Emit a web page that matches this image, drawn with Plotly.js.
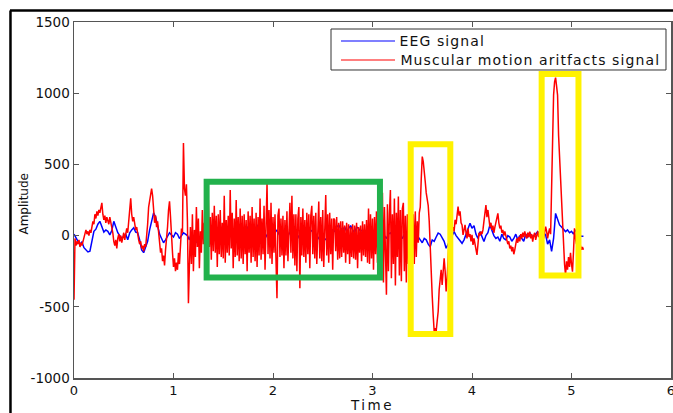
<!DOCTYPE html>
<html>
<head>
<meta charset="utf-8">
<script src="https://cdn.plot.ly/plotly-3.0.1.min.js"></script>
<style>
  html, body { margin: 0; padding: 0; background: #ffffff; }
  #chart { width: 673px; height: 413px; }
  /* wide, airy lettering of the legend labels and the time label */
  #chart .annotation[data-index="0"] text,
  #chart .annotation[data-index="1"] text { letter-spacing: 1.1px; }
  #chart .xtitle { letter-spacing: 2.5px; }
</style>
</head>
<body>
<div id="chart"></div>
<script>
// Sampling steps (seconds) of the two recordings
const eegStep = 0.02;
const emgStep = 0.01;

// EEG signal (blue), three consecutive stretches
const eegStartA = 0.00;
const eegA = [
  10, -20, -40, -60, -45, -85, -100, -115, -110, -40,
  30, 45, 80, 100, 55, 25, 40, 30, 5, 35,
  100, 65, 20, 0, -20, -5, 10, -30, 20, 40,
  55, 25, 20, -30, -100, -120, -80, -40, 40, 110,
  160, 130, 60, 10, -20, -50, -30, 0, 20, 5,
  -10, 20, 10, -20, 0, 20, 10
];
const eegStartB = 1.14;
const eegB = [
  0, -30, 20, -10, -40, -50, -30, 10, -20, 0,
  -40, -30, -50, -20, 0, -40, -50, -20, 10, 30,
  0, 20, -10, 30, 10, -20, 20, 40, 20, 50,
  60, 30, 0, -20, 20, 75, 50, 20, 0, -20,
  10, 30, 0, -30, 20, 40, 10, -10, 30, 0,
  -20, 10, 40, 20, -10, -30, 0, -20, -40, -30,
  -20, 10, 30, 40, 20, 0, -20, -40, -50, -30,
  -20, 0, 20, 40, 30, 60, 75, 50, 40, 60,
  30, 50, 70, 40, 20, 60, 50, 30, 40, 20,
  40, 60, 30, 10, 0, 20, -10, 10, 30, 0,
  -20, 10, 20, 0, -30, -10, 20, 0, -20, 10,
  0, -10, 20
];
const eegStartC = 3.40;
const eegC = [
  0, -20, -30, -10, -30, -50, -20, -30, -60, -78,
  -30, -40, -10, 18, 10, -20, -40, -89, -60, -20,
  10, 28, 0, -20, -40, -54, -30, 10, 60, 86,
  51, 70, 10, -20, 28, -10, -42, 0, 20, 75,
  40, 0, -20, -10, -40, 10, -20, -30, 0, -10,
  -40, -20, 10, -30, 0, -20, -40, 10, -10, 20,
  0, -7, 10, 28, 5, -10, 20, 5, -60, -30,
  -110, -20, 156, 120, 75, 60, 40, 28, 40, 20,
  30, 10, 40, 20, 0, -5, -5
];

// Muscular motion artifacts signal (red), three consecutive stretches
const emgStartA = 0.00;
const emgA = [
  -450, -20, -70, -40, -60, -30, -80, -50, -70, -40,
  -20, 20, 40, 10, 30, 0, 40, 20, 60, 100,
  80, 150, 120, 170, 140, 180, 160, 200, 230, 150,
  110, 140, 90, 130, 100, 80, 130, 100, 60, 20,
  -40, -70, -30, -90, -20, 10, -40, 0, -50, -10,
  20, -30, 10, 50, 20, 90, 160, 262, 150, 100,
  130, 80, 40, 60, 0, -30, -60, -40, -90, -70,
  -110, -60, -80, -20, 80, 200, 250, 310, 330, 280,
  150, 90, 140, 60, 100, 20, -60, -120, -90, -180,
  -140, -210, -100, -40, 60, 180, 240, 130, -30, -120,
  -220, -160, -250, -190, -240, -120, -200, -80, 50, 20
];
const emgStartB = 1.10;
const emgB = [
  650, 330, 280, 360, 100, -475, -120, 60, -200, 150,
  -250, 40, -150, 200, -80, 120, -230, 30, -120, 180,
  -60, 90, -200, 120, -140, 250, -80, 130, -170, 160,
  -110, 210, -120, 140, -220, 150, -130, 180, -150, 90,
  -160, 280, -190, 110, -120, 140, -140, 320, -90, 160,
  -230, 120, -150, 250, -140, 130, -180, 190, -160, 140,
  -200, 150, -130, 110, -250, 170, -120, 140, -190, 200,
  -150, 120, -180, 160, -220, 130, -140, 260, -170, 120,
  -130, 210, -240, 150, 367, -130, 180, -160, 230, -200,
  130, -120, 150, -170, -440, 140, 190, -150, 120, -140,
  140, -230, 110, -140, 170, -180, 130, 230, -120, 280,
  -160, 150, -210, 150, -250, 120, 200, -370, 130, -140,
  190, -150, 110, -190, 160, -130, 150, -230, 140, 210,
  -130, 140, -160, 160, -200, 120, 240, -160, 130, -180,
  180, -220, 130, 285, -140, 150, -190, 160, -130, 120,
  -240, 120, 110, -110, 130, -170, 90, -160, 100, -150,
  100, -120, 70, -190, 90, -130, 80, -200, 60, -150,
  80, -160, 70, -170, 90, -230, 60, -120, 70, -180,
  100, -140, 80, -150, 110, -190, 190, -200, 150, -160,
  120, -240, 130, -130, 170, -190, 240, -260, 120, -180,
  300, -330, 200, -200, -415, 220, -250, 150, 320, -300,
  150, -200, 260, -350, 160, -150, 274, -280, 180, -320,
  190, 230, -250, 140, -330, 150, -200, 120, -150, 40
];
const emgStartC = 3.40;
const emgC = [
  -100, 150, -200, 170, -150, 100, -50, 160, 200, 400,
  555, 520, 420, 380, 300, 260, 210, 100, -120, -300,
  -420, -560, -674, -650, -670, -600, -533, -380, -300, -240,
  -347, -200, -160, -250, -393, -300, -150, -30, 30, 50,
  20, 60, 30, 110, 80, 150, 204, 140, 170, 90,
  75, 5, 40, 75, 20, -20, 50, -10, 10, -40,
  5, -65, -20, -60, -100, -136, -60, 20, 0, 28,
  10, 40, 100, 150, 215, 130, 180, 120, 60, 90,
  40, 70, 20, 60, 90, 120, 156, 90, 50, 70,
  20, 40, 0, 30, -10, -30, -60, -40, -90, -70,
  -110, -80, -131, -100, -60, -20, -50, -10, -40, 10,
  -20, 20, -10, 30, 0, -20, 20, -10, 28, -20,
  10, -42, 0, 20, -30, 10, 30, -10, 20, 40,
  0, 30, -20, 40, 63, 30, -19, 20, 50, 10,
  337, 700, 987, 1080, 1109, 1050, 987, 706, 543, 350,
  191, 40, -112, -200, -276, -180, -240, -150, -220, -120,
  -200, -253, -112, 51, -19, -60, -40, -90, -112, -70,
  -100, -80, -100
];

const seriesNames = ['EEG signal', 'Muscular motion aritfacts signal'];
const seriesColors = ['#0000ff', '#ff0000'];

// Highlighted regions: [t0, t1, a0, a1]
const burstRegion = [1.333, 3.075, -295, 379];
const artifactRegions = [
  [3.384, 3.782, -691, 642],
  [4.70, 5.07, -281, 1134]
];

const xTicks = [0, 1, 2, 3, 4, 5, 6];
const yTicks = [-1000, -500, 0, 500, 1000, 1500];

// Join stretches into one series with its time stamps
function series(parts, step) {
  const t = [], v = [];
  parts.forEach(([start, vals]) => {
    vals.forEach((val, i) => {
      t.push(Math.round((start + i * step) * 1000) / 1000);
      v.push(val);
    });
  });
  return { t, v };
}

const eeg = series([[eegStartA, eegA], [eegStartB, eegB], [eegStartC, eegC]], eegStep);
const emg = series([[emgStartA, emgA], [emgStartB, emgB], [emgStartC, emgC]], emgStep);

const font = 'DejaVu Sans, Verdana, sans-serif';
const axisColor = '#555555';
const textColor = '#111111';

const traces = [
  {
    x: eeg.t, y: eeg.v, type: 'scatter', mode: 'lines', name: seriesNames[0],
    line: { color: seriesColors[0], width: 1.5 }
  },
  {
    x: emg.t, y: emg.v, type: 'scatter', mode: 'lines', name: seriesNames[1],
    line: { color: seriesColors[1], width: 1.5 }
  }
];

function rect(r, color) {
  return {
    type: 'rect', xref: 'x', yref: 'y',
    x0: r[0], x1: r[1], y0: r[2], y1: r[3],
    line: { color: color, width: 6 }, fillcolor: 'rgba(0,0,0,0)', layer: 'above'
  };
}

// Legend box in the upper right of the axes (paper units; axes are 597 px wide)
const plotWidthPx = 597;
const legendBox = { x0: 0.4305, x1: 0.9916, y0: 0.8652, y1: 0.9803 };
const legendRows = [0.9466, 0.8933];
const legendLineX = [0.4472, 0.5377];
const legendTextX = 0.5427;
const legendLetterSpacing = 1.1;

const shapes = [
  rect(burstRegion, '#22b14c'),
  ...artifactRegions.map(r => rect(r, '#fff200')),
  { type: 'rect', xref: 'paper', yref: 'paper',
    x0: legendBox.x0, x1: legendBox.x1, y0: legendBox.y0, y1: legendBox.y1,
    line: { color: '#333333', width: 1 }, fillcolor: '#ffffff', layer: 'above' },
  ...legendRows.map((y, i) => ({
    type: 'line', xref: 'paper', yref: 'paper',
    x0: legendLineX[0], x1: legendLineX[1], y0: y, y1: y,
    line: { color: seriesColors[i], width: 1.2 }, layer: 'above'
  })),
  // figure frame (top and left edges)
  { type: 'line', xref: 'paper', yref: 'paper', x0: -0.1072, x1: 1.01, y0: 1.0323, y1: 1.0323,
    line: { color: '#000000', width: 2.5 } },
  { type: 'line', xref: 'paper', yref: 'paper', x0: -0.1064, x1: -0.1064, y0: 1.0323, y1: -0.12,
    line: { color: '#000000', width: 2.5 } }
];

// the letter spacing widens each label around its centre, so push it right by half the extra width
const annotations = [
  ...legendRows.map((y, i) => ({
    xref: 'paper', yref: 'paper',
    x: legendTextX + (seriesNames[i].length * legendLetterSpacing / 2) / plotWidthPx, y: y,
    xanchor: 'left', yanchor: 'middle', showarrow: false,
    text: seriesNames[i], font: { family: font, size: 14, color: textColor }
  })),
  { xref: 'paper', yref: 'paper', x: -0.0838, y: 0.49, textangle: -90,
    xanchor: 'center', yanchor: 'middle', showarrow: false,
    text: 'Amplitude', font: { family: font, size: 12, color: textColor } }
];

const axisCommon = {
  showgrid: false, zeroline: false,
  showline: true, linecolor: axisColor, linewidth: 1.5,
  mirror: 'ticks', ticks: 'inside', ticklen: 5, tickwidth: 1, tickcolor: axisColor,
  ticklabeloverflow: 'allow',
  tickfont: { family: font, size: 13, color: textColor }
};

const layout = {
  width: 673, height: 413,
  margin: { l: 74, r: 2, t: 22, b: 35, pad: 0 },
  paper_bgcolor: '#ffffff', plot_bgcolor: '#ffffff',
  showlegend: false,
  xaxis: Object.assign({}, axisCommon, {
    range: [0, 6], tickvals: xTicks, ticktext: xTicks.map(String),
    title: { text: 'Time', font: { family: font, size: 13.5, color: textColor }, standoff: 8 }
  }),
  yaxis: Object.assign({}, axisCommon, {
    range: [-1000, 1500], tickvals: yTicks, ticktext: yTicks.map(String),
    tickfont: { family: font, size: 13.5, color: textColor }
  }),
  shapes: shapes,
  annotations: annotations
};

Plotly.newPlot('chart', traces, layout, { displayModeBar: false, staticPlot: true });
</script>
</body>
</html>
